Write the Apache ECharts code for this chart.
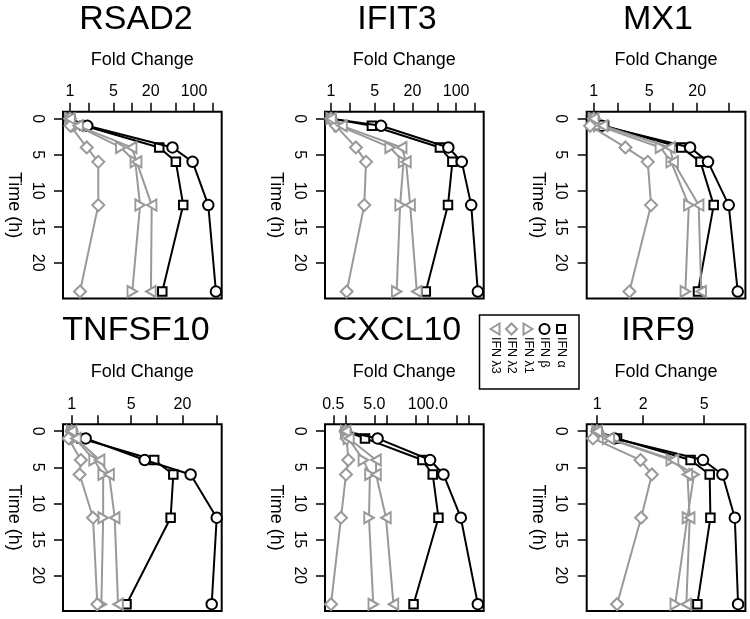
<!DOCTYPE html>
<html><head><meta charset="utf-8">
<script src="https://cdn.jsdelivr.net/npm/echarts@6.0.0/dist/echarts.min.js"></script>
<style>html,body{margin:0;padding:0;background:#fff}#chart{width:750px;height:619px}</style>
</head><body><div id="chart"></div>
<script>
// ---------- data ----------
const timesH = [0, 1, 4, 6, 12, 24];
const seriesNames = ['IFN α', 'IFN β', 'IFN λ1', 'IFN λ2', 'IFN λ3'];
const genes = ['RSAD2', 'IFIT3', 'MX1', 'TNFSF10', 'CXCL10', 'IRF9'];
const timeTicks = [0, 5, 10, 15, 20];

// fold change; rows: IFN α, IFN β, IFN λ1, IFN λ2, IFN λ3 ; columns follow timesH
const foldRSAD2 = [
  [1, 1.7, 27.5, 51, 67, 30.8],
  [1, 1.9, 45, 95, 170, 226],
  [1, 1.3, 6.6, 11.3, 13.5, 10.1],
  [1, 1.02, 1.86, 2.86, 2.86, 1.45],
  [1, 1.35, 9.9, 11.9, 20.8, 20.2]
];
const foldIFIT3 = [
  [1, 4.5, 55, 87, 74, 32.7],
  [1, 6.3, 75, 123, 174, 222],
  [1, 1.35, 8.8, 14.4, 12.7, 11.2],
  [1, 1.2, 2.5, 3.63, 3.4, 1.78],
  [1, 1.5, 13.5, 15.8, 18.4, 23.5]
];
const foldMX1 = [
  [1, 1.35, 12.6, 22, 32.3, 20.5],
  [1, 1.25, 16.3, 27.4, 49.9, 64.8],
  [1, 1.15, 6.9, 9.4, 15.7, 14.2],
  [1, 0.9, 2.5, 4.78, 5.26, 2.81],
  [1, 1.3, 9.1, 10, 20.9, 22.5]
];
const foldTNFSF10 = [
  [1, 1.3, 9.3, 15.6, 14.5, 4.4],
  [1, 1.46, 7.2, 24.9, 50.4, 44],
  [1, 1.1, 1.83, 2.34, 2.34, 2.23],
  [1, 0.92, 1.28, 1.24, 1.78, 2.0],
  [1, 1.12, 2.13, 2.75, 3.2, 3.5]
];
const foldCXCL10 = [
  [1, 2.96, 74, 132, 182, 45],
  [1, 6.0, 114, 241, 638, 1655],
  [1, 1.16, 2.7, 3.9, 3.7, 4.7],
  [1, 1.06, 1.16, 1.02, 0.77, 0.44],
  [1, 1.2, 5.5, 5.5, 9.6, 14.6]
];
const foldIRF9 = [
  [1, 1.35, 4.08, 5.44, 5.5, 4.52],
  [1, 1.3, 4.92, 6.59, 7.94, 8.34],
  [1, 1.17, 3.05, 4.3, 3.89, 3.24],
  [1, 0.94, 1.92, 2.28, 1.94, 1.35],
  [1, 1.2, 3.16, 3.89, 4.03, 3.83]
];
const foldData = [foldRSAD2, foldIFIT3, foldMX1, foldTNFSF10, foldCXCL10, foldIRF9];

// fold-change axis tick marks and tick labels per panel
const ticksRSAD2 = [1, 2, 5, 10, 20, 50, 100, 200];
const labelsRSAD2 = ['1', '5', '20', '100'];
const ticksIFIT3 = [1, 2, 5, 10, 20, 50, 100, 200];
const labelsIFIT3 = ['1', '5', '20', '100'];
const ticksMX1 = [1, 2, 5, 10, 20, 50];
const labelsMX1 = ['1', '5', '20'];
const ticksTNFSF10 = [1, 2, 5, 10, 20, 50];
const labelsTNFSF10 = ['1', '5', '20'];
const ticksCXCL10 = [0.5, 1, 5, 10, 50, 100, 500, 1000];
const labelsCXCL10 = ['0.5', '5.0', '100.0'];
const ticksIRF9 = [1, 2, 5];
const labelsIRF9 = ['1', '2', '5'];
const tickSets = [ticksRSAD2, ticksIFIT3, ticksMX1, ticksTNFSF10, ticksCXCL10, ticksIRF9];
const labelSets = [labelsRSAD2, labelsIFIT3, labelsMX1, labelsTNFSF10, labelsCXCL10, labelsIRF9];

// ---------- layout / style ----------
const FONT = '"Liberation Sans", Arial, Helvetica, sans-serif';
const colLeft = [63, 325, 586.7];
const rowTop = [111.7, 424.3];
const boxW = 158.7, boxH = 186.8;
const titleX = [136, 397, 658];
const titleY = [19.5, 331];
// visible log10 range of the fold-change axis per panel
const logRange = [[-0.113, 2.447], [-0.096, 2.44], [-0.089, 1.908], [-0.102, 1.761], [-0.503, 3.362], [-0.068, 0.969]];

const BLACK = '#000000', GRAY = '#999999';
const seriesStyle = [
  { color: BLACK, symbol: 'rect', size: 8.5, rot: 0 },
  { color: BLACK, symbol: 'circle', size: 10.5, rot: 0 },
  { color: GRAY, symbol: 'triangle', size: [11, 9.5], rot: -90 },
  { color: GRAY, symbol: 'diamond', size: [12, 12], rot: 0 },
  { color: GRAY, symbol: 'triangle', size: [11, 9.5], rot: 90 }
];

const grids = [], xAxes = [], yAxes = [], series = [], graphics = [];
const lg = Math.log10;

genes.forEach((g, i) => {
  const r = Math.floor(i / 3), c = i % 3;
  grids.push({ left: colLeft[c], top: rowTop[r], width: boxW, height: boxH, show: true,
    borderColor: BLACK, borderWidth: 2, backgroundColor: 'transparent', containLabel: false });
  const labs = labelSets[i];
  const labVals = labs.map(s => lg(parseFloat(s)));
  xAxes.push({
    gridIndex: i, type: 'value', position: 'top', min: logRange[i][0], max: logRange[i][1],
    axisLine: { show: false, onZero: false }, splitLine: { show: false },
    axisTick: { show: true, inside: false, customValues: tickSets[i].map(lg), length: 9, lineStyle: { color: BLACK, width: 1.5 } },
    axisLabel: { show: true, customValues: labVals, color: BLACK, fontSize: 16, fontFamily: FONT, margin: 12,
      formatter: v => { const k = labVals.findIndex(q => Math.abs(q - v) < 1e-6); return k >= 0 ? labs[k] : ''; } },
    name: 'Fold Change', nameLocation: 'middle', nameGap: 43,
    nameTextStyle: { color: BLACK, fontSize: 18, fontFamily: FONT }
  });
  yAxes.push({
    gridIndex: i, type: 'value', inverse: true, min: -0.96, max: 24.96,
    axisLine: { show: false, onZero: false }, splitLine: { show: false },
    axisTick: { show: true, inside: false, customValues: timeTicks, length: 9, lineStyle: { color: BLACK, width: 1.5 } },
    axisLabel: { show: true, customValues: timeTicks, rotate: -90, color: BLACK, fontSize: 16, fontFamily: FONT, margin: 18 },
    name: 'Time (h)', nameLocation: 'middle', nameGap: 40, nameRotate: -90,
    nameTextStyle: { color: BLACK, fontSize: 18, fontFamily: FONT }
  });
  foldData[i].forEach((vals, s) => {
    const st = seriesStyle[s];
    series.push({
      type: 'line', name: seriesNames[s], xAxisIndex: i, yAxisIndex: i,
      data: vals.map((v, k) => [lg(v), timesH[k]]),
      symbol: st.symbol, symbolSize: st.size, symbolRotate: st.rot, showSymbol: true, clip: false,
      lineStyle: { color: st.color, width: 2 },
      itemStyle: { color: '#ffffff', borderColor: st.color, borderWidth: 2 },
      emphasis: { disabled: true }, silent: true, z: 2 + s * 0.01
    });
  });
  graphics.push({ type: 'text', x: titleX[c], y: titleY[r], silent: true,
    style: { text: g, fill: BLACK, font: '34px ' + FONT, align: 'center', verticalAlign: 'middle' } });
});

// legend (rotated, drawn as graphics)
const legX = [495, 511.5, 528, 544.5, 561];
const legOrder = [4, 3, 2, 1, 0];
const symY = 329;
graphics.push({ type: 'rect', shape: { x: 479.5, y: 315, width: 99.5, height: 74 }, silent: true,
  style: { fill: '#fff', stroke: BLACK, lineWidth: 1.5 } });
legOrder.forEach((s, j) => {
  const x = legX[j], st = seriesStyle[s];
  const sty = { fill: 'none', stroke: st.color, lineWidth: 2 };
  let shape;
  if (s === 0) shape = { type: 'rect', shape: { x: x - 4, y: symY - 4, width: 8, height: 8 }, style: sty };
  else if (s === 1) shape = { type: 'circle', shape: { cx: x, cy: symY, r: 5 }, style: sty };
  else if (s === 3) shape = { type: 'polygon', shape: { points: [[x, symY - 5.5], [x + 5.5, symY], [x, symY + 5.5], [x - 5.5, symY]] }, style: sty };
  else if (s === 2) shape = { type: 'polygon', shape: { points: [[x + 4.5, symY], [x - 4.5, symY - 5.5], [x - 4.5, symY + 5.5]] }, style: sty };
  else shape = { type: 'polygon', shape: { points: [[x - 4.5, symY], [x + 4.5, symY - 5.5], [x + 4.5, symY + 5.5]] }, style: sty };
  shape.silent = true;
  graphics.push(shape);
  graphics.push({ type: 'text', x: x, y: 337, rotation: -Math.PI / 2, silent: true,
    style: { text: seriesNames[s], fill: BLACK, font: '12.5px ' + FONT, align: 'left', verticalAlign: 'middle' } });
});

const chart = echarts.init(document.getElementById('chart'), null, { renderer: 'canvas' });
chart.setOption({
  animation: false,
  backgroundColor: '#ffffff',
  grid: grids, xAxis: xAxes, yAxis: yAxes, series: series,
  graphic: graphics
});
</script></body></html>
